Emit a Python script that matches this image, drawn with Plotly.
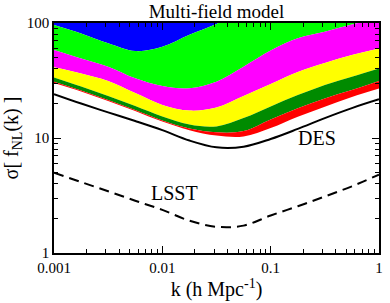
import plotly.graph_objects as go

# k values (h Mpc^-1)
k = [0.001, 0.00178, 0.00316, 0.00562, 0.01, 0.0178, 0.0316, 0.0562,
     0.1, 0.178, 0.316, 0.562, 1.0]

# lower boundaries of the filled bands (sigma[f_NL(k)])
blue_lo = [96, 81, 66.6, 57, 62, 79, 98, 130, 160, 190, 220, 250, 280]
green_lo = [58.2, 49.1, 41.7, 33.0, 28.3, 27.1, 30.9, 41.7, 57.6, 73.6, 84.0, 97.0, 110.5]
magenta_lo = [41.2, 36.4, 31.3, 24.6, 19.4, 17.3, 18.4, 23.2, 29.5, 37.5, 44.9, 52.7, 60.0]
yellow_lo = [33.6, 28.0, 23.2, 19.0, 15.4, 13.1, 12.6, 14.9, 18.8, 23.6, 28.9, 34.1, 40.2]
dkgreen_lo = [30.9, 25.9, 21.4, 17.5, 14.2, 12.1, 11.2, 11.5, 14.5, 18.1, 22.1, 26.1, 31.3]
red_lo = [30.1, 25.4, 21.0, 17.2, 13.9, 11.7, 10.5, 10.3, 12.2, 15.3, 18.7, 22.7, 26.9]
top = [1000] * len(k)

# survey forecasts
des = [24.1, 19.95, 16.7, 14.05, 11.7, 9.5, 8.3, 8.4, 9.8, 12.0, 14.9, 18.2, 21.7]
lsst = [4.99, 4.14, 3.44, 2.85, 2.37, 1.91, 1.69, 1.73, 2.12, 2.55, 3.1, 3.8, 4.8]

FONT = "Liberation Serif"

fig = go.Figure()
fig.add_trace(go.Scatter(x=k, y=top, mode="lines", line=dict(width=0), hoverinfo="skip"))
bands = [
    (blue_lo, "#0000FF"),
    (green_lo, "#00FF00"),
    (magenta_lo, "#FF00FF"),
    (yellow_lo, "#FFFF00"),
    (dkgreen_lo, "#008B00"),
    (red_lo, "#FF0000"),
]
for vals, col in bands:
    fig.add_trace(go.Scatter(
        x=k, y=vals, mode="lines", fill="tonexty", fillcolor=col,
        line=dict(width=0, shape="spline", smoothing=1.0, color=col),
        hoverinfo="skip"))

fig.add_trace(go.Scatter(x=k, y=des, mode="lines",
                         line=dict(color="black", width=2, shape="spline", smoothing=1.0)))
fig.add_trace(go.Scatter(x=k, y=lsst, mode="lines",
                         line=dict(color="black", width=2, dash="10px,6px",
                                   shape="spline", smoothing=1.0)))

xminor = [m * 10 ** e for e in (-3, -2, -1) for m in range(2, 10)]
yminor = [m * 10 ** e for e in (0, 1) for m in range(2, 10)]

fig.update_layout(
    width=390, height=303,
    margin=dict(l=54, r=7, t=23, b=50),
    paper_bgcolor="white", plot_bgcolor="white",
    showlegend=False,
    font=dict(family=FONT, color="black"),
    title=dict(text="Multi-field model", x=0.5, xref="paper", xanchor="center",
               y=1 - 11 / 303, yanchor="middle", font=dict(family=FONT, size=19, color="black")),
    xaxis=dict(
        type="log", range=[-3, 0],
        showline=True, linecolor="black", linewidth=1.5, mirror="ticks",
        ticks="inside", ticklen=7, tickwidth=1, tickcolor="black",
        tickvals=[0.001, 0.01, 0.1, 1], ticktext=["0.001", "0.01", "0.1", "1"],
        tickfont=dict(family=FONT, size=15, color="black"),
        minor=dict(tickvals=xminor, ticks="inside", ticklen=4, tickwidth=1, tickcolor="black", showgrid=False),
        showgrid=False, zeroline=False,
        title=dict(text="k (h Mpc<sup>-1</sup>)", font=dict(family=FONT, size=20, color="black"), standoff=6),
    ),
    yaxis=dict(
        type="log", range=[0, 2],
        showline=True, linecolor="black", linewidth=1.5, mirror="ticks",
        ticks="inside", ticklen=7, tickwidth=1, tickcolor="black",
        tickvals=[1, 10, 100], ticktext=["1", "10", "100"],
        tickfont=dict(family=FONT, size=15, color="black"),
        minor=dict(tickvals=yminor, ticks="inside", ticklen=4, tickwidth=1, tickcolor="black", showgrid=False),
        showgrid=False, zeroline=False,
        title=dict(text="σ[ f<sub>NL</sub>(k) ]", font=dict(family=FONT, size=20, color="black"), standoff=4),
    ),
    annotations=[
        dict(x=-0.574, y=1.0, xref="x", yref="y", text="DES", showarrow=False,
             font=dict(family=FONT, size=20, color="black")),
        dict(x=-1.888, y=0.522, xref="x", yref="y", text="LSST", showarrow=False,
             font=dict(family=FONT, size=20, color="black")),
    ],
)

fig.write_html("out.html", config={"displayModeBar": False},
               post_script="document.body.style.margin='0px';document.body.style.overflow='hidden';")
